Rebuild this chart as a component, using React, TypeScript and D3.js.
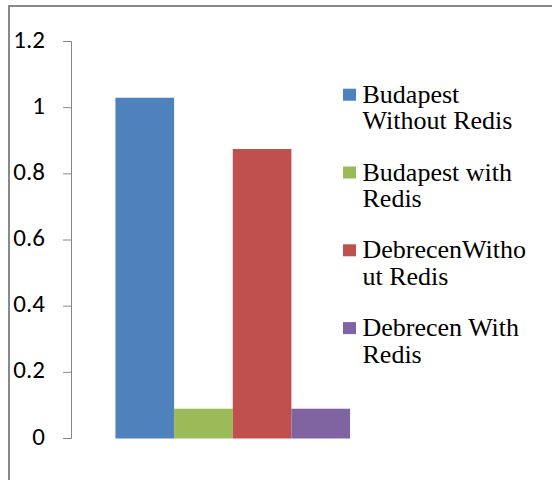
import React from "react";
import * as d3 from "d3";

const categories = [""];
const seriesNames = [
  "Budapest Without Redis",
  "Budapest with Redis",
  "DebrecenWithout Redis",
  "Debrecen With Redis",
];
const legendLines = [
  ["Budapest", "Without Redis"],
  ["Budapest with", "Redis"],
  ["DebrecenWitho", "ut Redis"],
  ["Debrecen With", "Redis"],
];
const seriesValues = [1.03, 0.09, 0.875, 0.09];
const seriesColors = ["#4F81BD", "#9BBB59", "#C0504D", "#8064A2"];
const yTicks = [0, 0.2, 0.4, 0.6, 0.8, 1, 1.2];

const W = 552;
const H = 480;

export default function App() {
  const plotLeft = 71.5;
  const plotRight = 394;
  const y = d3.scaleLinear().domain([0, 1.2]).range([438.5, 41.5]);
  const x0 = d3
    .scaleBand<string>()
    .domain(categories)
    .range([plotLeft, plotRight])
    .paddingInner(0.1577)
    .paddingOuter(0.1577);
  const x1 = d3
    .scaleBand<string>()
    .domain(seriesNames)
    .range([0, x0.bandwidth()]);

  const legendX = 343;
  const legendTextX = 362.5;
  const legendBase = 102.7;
  const itemStep = 77.8;
  const lineStep = 26.6;

  return (
    <svg
      width={W}
      height={H}
      style={{ position: "fixed", left: 0, top: 0, background: "#fff" }}
    >
      <rect x={0} y={0} width={W} height={H} fill="#fff" />
      <rect
        x={9}
        y={6}
        width={W + 20}
        height={H + 20}
        fill="none"
        stroke="#898989"
        strokeWidth={2}
      />
      {categories.map((c) => (
        <g key={c} transform={`translate(${x0(c)},0)`}>
          {seriesNames.map((s, i) => (
            <rect
              key={s}
              x={x1(s)}
              y={y(seriesValues[i])}
              width={x1.bandwidth()}
              height={y(0) - y(seriesValues[i])}
              fill={seriesColors[i]}
            />
          ))}
        </g>
      ))}
      <line
        x1={plotLeft}
        x2={plotLeft}
        y1={y(1.2)}
        y2={y(0)}
        stroke="#868686"
        strokeWidth={1}
      />
      {yTicks.map((t) => (
        <g key={t}>
          <line
            x1={63}
            x2={plotLeft}
            y1={y(t)}
            y2={y(t)}
            stroke="#868686"
            strokeWidth={1}
          />
          <text
            x={45}
            y={y(t)}
            dy="0.24em"
            textAnchor="end"
            style={{ fontFamily: "Carlito, Lato, sans-serif", fontSize: "25px" }}
            fill="#000"
          >
            {d3.format("~g")(t)}
          </text>
        </g>
      ))}
      {seriesNames.map((s, i) => {
        const base = legendBase + i * itemStep;
        return (
          <g key={s}>
            <rect
              x={legendX}
              y={base - 14}
              width={13}
              height={12}
              fill={seriesColors[i]}
            />
            {legendLines[i].map((ln, j) => (
              <text
                key={j}
                x={legendTextX}
                y={base + j * lineStep}
                style={{ fontFamily: "Liberation Serif", fontSize: "26px" }}
                fill="#000"
              >
                {ln}
              </text>
            ))}
          </g>
        );
      })}
    </svg>
  );
}
